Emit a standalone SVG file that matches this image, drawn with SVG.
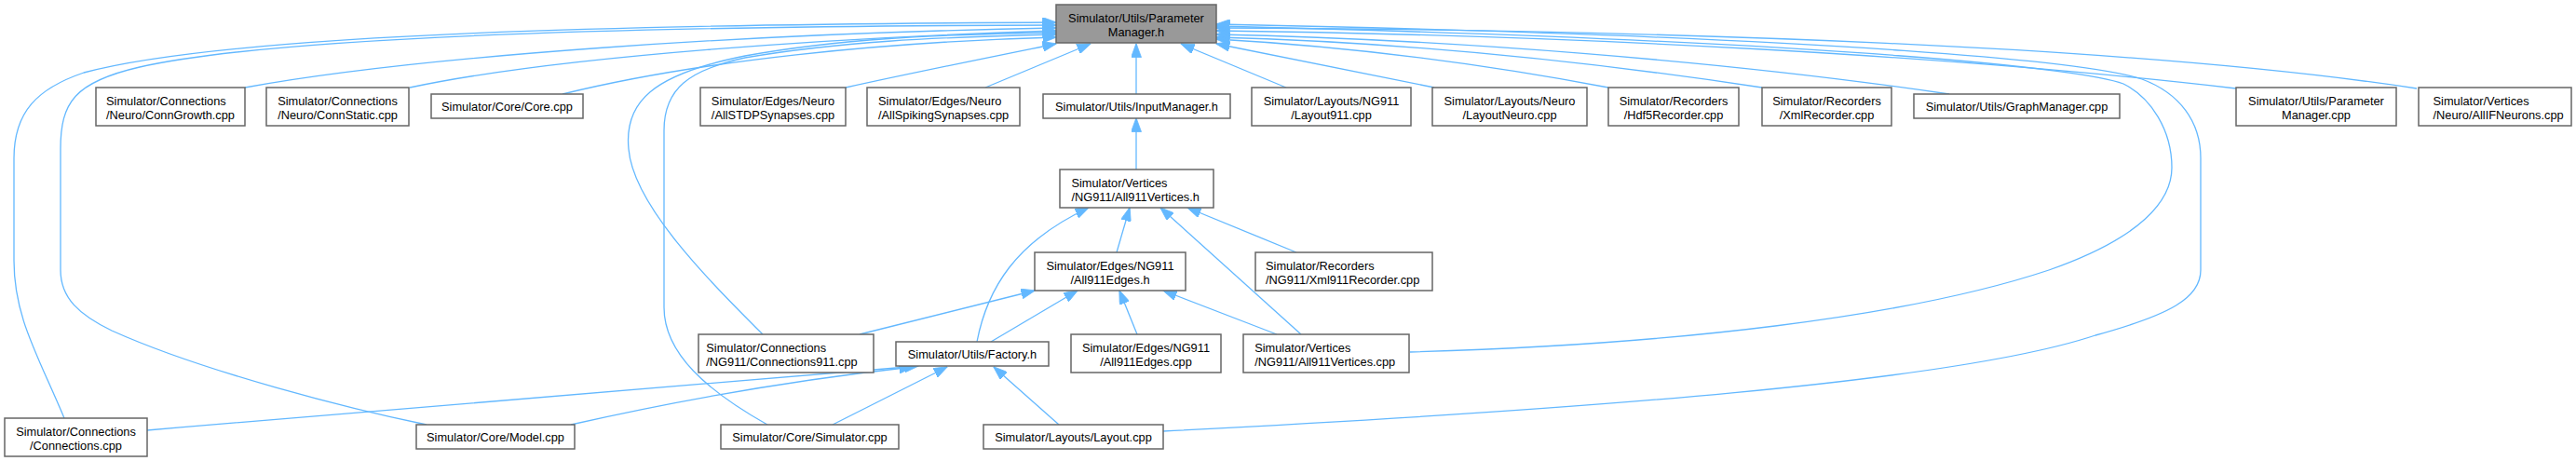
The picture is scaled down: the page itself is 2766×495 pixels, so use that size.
<svg xmlns="http://www.w3.org/2000/svg" width="2766" height="495" viewBox="0 0 2766 495">
<style>
.n rect{fill:#ffffff;stroke:#666666;stroke-width:1.5}
.n.root rect{fill:#999999}
.n text{font-family:"Liberation Sans",Arial,Helvetica,sans-serif;font-size:12.8px;fill:#000000}
.c{text-anchor:middle}
.e path{fill:none;stroke:#63b8ff;stroke-width:1.3;marker-end:url(#ah)}
</style>
<defs>
<marker id="ah" markerUnits="userSpaceOnUse" markerWidth="15" markerHeight="11" viewBox="0 0 15 11" refX="14.5" refY="5.5" orient="auto">
<path d="M0,0 L15,5.5 L0,11 z" fill="#63b8ff" stroke="#63b8ff" stroke-width="0.8"/>
</marker>
</defs>
<rect width="2766" height="495" fill="#ffffff"/>
<g id="edges" class="e">
<path d="M69,449 C40,380 15,340 15,280 L15,170 C15,120 40,95 90,78 C250,35 700,26 1134,24"/>
<path d="M458,456 C380,440 220,400 120,355 C85,338 65,320 65,290 L65,160 C65,110 80,88 150,72 C300,38 700,28 1134,27"/>
<path d="M263,94 C450,60 800,36 1134,30"/>
<path d="M440,94 C600,60 900,40 1134,33"/>
<path d="M604,101 C750,65 950,45 1134,40"/>
<path d="M819,359 C760,300 680,220 675,160 C670,110 700,80 800,60 C900,42 1000,37 1134,35"/>
<path d="M824,456 C760,420 713,380 713,330 L713,140 C713,95 740,75 800,62 C900,45 1000,40 1134,37"/>
<path d="M908,94 C980,78 1060,62 1134,47"/>
<path d="M1058,94 L1171,47"/>
<path d="M1220,101 L1220,47"/>
<path d="M1381,94 L1268,47"/>
<path d="M1540,94 L1306,47"/>
<path d="M1727,94 C1600,70 1450,50 1306,42"/>
<path d="M1892,94 C1700,65 1500,45 1306,40"/>
<path d="M2093,101 C1850,65 1550,42 1306,37"/>
<path d="M2401,95 C2100,60 1700,38 1306,33"/>
<path d="M2595,95 C2300,50 1800,32 1306,30"/>
<path d="M1514,378 C1800,370 2050,340 2200,290 C2300,255 2332,215 2332,180 C2332,140 2310,105 2280,90 C2240,75 2000,45 1306,28"/>
<path d="M1249,463 C1700,440 2100,410 2250,360 C2330,338 2363,320 2363,290 L2363,170 C2363,130 2340,100 2300,85 C2250,68 2000,40 1306,26"/>
<path d="M1220,182 L1220,127"/>
<path d="M1199,271 L1213,223"/>
<path d="M1049,367 C1060,310 1090,260 1169,223"/>
<path d="M1397,359 L1246,223"/>
<path d="M1392,271 L1275,223"/>
<path d="M923,359 L1111,312"/>
<path d="M1064,367 L1157,312"/>
<path d="M1221,359 L1202,312"/>
<path d="M1371,359 L1249,312"/>
<path d="M158,462 C500,432 850,405 986,393"/>
<path d="M613,456 C750,425 880,405 980,394"/>
<path d="M894,456 L1017,394"/>
<path d="M1137,456 L1067,394"/>
</g>
<g id="n_pm_h" class="n root"><rect x="1134" y="5" width="172" height="41"/><text class="c" x="1220" y="23.5">Simulator/Utils/Parameter</text><text class="c" x="1220" y="38.5">Manager.h</text></g>
<g id="n_conngrowth" class="n"><rect x="103" y="94" width="160" height="41"/><text x="114" y="112.5">Simulator/Connections</text><text x="114" y="127.5">/Neuro/ConnGrowth.cpp</text></g>
<g id="n_connstatic" class="n"><rect x="286" y="94" width="153" height="41"/><text class="c" x="362.5" y="112.5">Simulator/Connections</text><text class="c" x="362.5" y="127.5">/Neuro/ConnStatic.cpp</text></g>
<g id="n_core" class="n"><rect x="463" y="101" width="163" height="26"/><text class="c" x="544.5" y="118.5">Simulator/Core/Core.cpp</text></g>
<g id="n_allstdp" class="n"><rect x="752" y="94" width="156" height="41"/><text class="c" x="830" y="112.5">Simulator/Edges/Neuro</text><text class="c" x="830" y="127.5">/AllSTDPSynapses.cpp</text></g>
<g id="n_allspiking" class="n"><rect x="931" y="94" width="164" height="41"/><text x="943" y="112.5">Simulator/Edges/Neuro</text><text x="943" y="127.5">/AllSpikingSynapses.cpp</text></g>
<g id="n_inputmanager" class="n"><rect x="1120" y="101" width="201" height="26"/><text class="c" x="1220.5" y="118.5">Simulator/Utils/InputManager.h</text></g>
<g id="n_layout911" class="n"><rect x="1344" y="94" width="171" height="41"/><text class="c" x="1429.5" y="112.5">Simulator/Layouts/NG911</text><text class="c" x="1429.5" y="127.5">/Layout911.cpp</text></g>
<g id="n_layoutneuro" class="n"><rect x="1538" y="94" width="166" height="41"/><text class="c" x="1621" y="112.5">Simulator/Layouts/Neuro</text><text class="c" x="1621" y="127.5">/LayoutNeuro.cpp</text></g>
<g id="n_hdf5" class="n"><rect x="1727" y="94" width="140" height="41"/><text class="c" x="1797" y="112.5">Simulator/Recorders</text><text class="c" x="1797" y="127.5">/Hdf5Recorder.cpp</text></g>
<g id="n_xmlrecorder" class="n"><rect x="1892" y="94" width="139" height="41"/><text class="c" x="1961.5" y="112.5">Simulator/Recorders</text><text class="c" x="1961.5" y="127.5">/XmlRecorder.cpp</text></g>
<g id="n_graphmanager" class="n"><rect x="2055" y="101" width="221" height="26"/><text class="c" x="2165.5" y="118.5">Simulator/Utils/GraphManager.cpp</text></g>
<g id="n_pm_cpp" class="n"><rect x="2401" y="94" width="172" height="41"/><text class="c" x="2487" y="112.5">Simulator/Utils/Parameter</text><text class="c" x="2487" y="127.5">Manager.cpp</text></g>
<g id="n_allifneurons" class="n"><rect x="2597" y="94" width="164" height="41"/><text x="2612.5" y="112.5">Simulator/Vertices</text><text x="2612.5" y="127.5">/Neuro/AllIFNeurons.cpp</text></g>
<g id="n_all911vertices_h" class="n"><rect x="1138" y="182" width="165" height="41"/><text x="1150.4" y="200.5">Simulator/Vertices</text><text x="1150.4" y="215.5">/NG911/All911Vertices.h</text></g>
<g id="n_all911edges_h" class="n"><rect x="1111" y="271" width="162" height="41"/><text class="c" x="1192" y="289.5">Simulator/Edges/NG911</text><text class="c" x="1192" y="304.5">/All911Edges.h</text></g>
<g id="n_xml911recorder" class="n"><rect x="1348" y="271" width="190" height="41"/><text x="1359" y="289.5">Simulator/Recorders</text><text x="1359" y="304.5">/NG911/Xml911Recorder.cpp</text></g>
<g id="n_connections911" class="n"><rect x="750" y="359" width="188" height="41"/><text x="758.3" y="377.5">Simulator/Connections</text><text x="758.3" y="392.5">/NG911/Connections911.cpp</text></g>
<g id="n_factory" class="n"><rect x="962" y="367" width="164" height="26"/><text class="c" x="1044" y="384.5">Simulator/Utils/Factory.h</text></g>
<g id="n_all911edges_cpp" class="n"><rect x="1150" y="359" width="161" height="41"/><text class="c" x="1230.5" y="377.5">Simulator/Edges/NG911</text><text class="c" x="1230.5" y="392.5">/All911Edges.cpp</text></g>
<g id="n_all911vertices_cpp" class="n"><rect x="1335" y="359" width="178" height="41"/><text x="1347.2" y="377.5">Simulator/Vertices</text><text x="1347.2" y="392.5">/NG911/All911Vertices.cpp</text></g>
<g id="n_connections" class="n"><rect x="5" y="449" width="153" height="41"/><text class="c" x="81.5" y="467.5">Simulator/Connections</text><text class="c" x="81.5" y="482.5">/Connections.cpp</text></g>
<g id="n_model" class="n"><rect x="447" y="456" width="170" height="26"/><text class="c" x="532" y="473.5">Simulator/Core/Model.cpp</text></g>
<g id="n_simulator" class="n"><rect x="774" y="456" width="191" height="26"/><text class="c" x="869.5" y="473.5">Simulator/Core/Simulator.cpp</text></g>
<g id="n_layout" class="n"><rect x="1056" y="456" width="193" height="26"/><text class="c" x="1152.5" y="473.5">Simulator/Layouts/Layout.cpp</text></g>
</svg>
